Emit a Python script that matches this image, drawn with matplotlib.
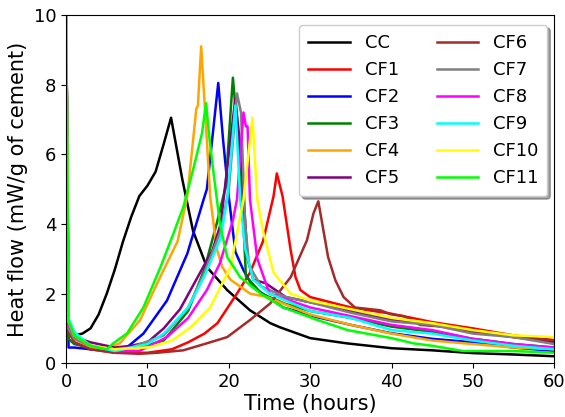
import matplotlib
matplotlib.use("Agg")
import matplotlib.pyplot as plt

# heat flow curves (hours, mW/g of cement)
cc_t = [0, 0.3, 1, 2, 3, 4, 5, 6, 7, 8, 9, 10, 11, 12, 12.9, 14.3, 15.6, 17.3, 19.8, 22.6, 25.1, 26.3, 30, 34.5, 40, 45, 50, 55, 60]
cc_q = [10.5, 1.2, 0.8, 0.85, 1.0, 1.4, 2.0, 2.7, 3.5, 4.2, 4.8, 5.1, 5.5, 6.3, 7.05, 5.26, 3.8, 2.76, 2.1, 1.52, 1.15, 1.03, 0.72, 0.57, 0.43, 0.37, 0.29, 0.25, 0.2]

cf1_t = [0, 0.3, 1, 3, 6, 10, 13, 15, 17, 18.6, 21, 22.6, 24.2, 25.5, 25.9, 26.6, 27.6, 28.2, 28.8, 30, 35, 40, 45, 50, 55, 60]
cf1_q = [10.5, 1.0, 0.6, 0.4, 0.3, 0.3, 0.4, 0.6, 0.85, 1.15, 2.0, 2.6, 3.5, 4.8, 5.45, 4.8, 3.25, 2.47, 2.1, 1.9, 1.6, 1.42, 1.18, 1.0, 0.8, 0.66]

cf2_t = [0, 0.3, 1, 3, 5, 7.5, 9.5, 12.4, 14.9, 16.9, 17.3, 18.7, 19.3, 19.9, 20.8, 21.8, 23, 26.7, 30.9, 35, 40, 45, 50, 55, 60]
cf2_q = [10.5, 0.45, 0.45, 0.4, 0.38, 0.46, 0.85, 1.8, 3.15, 4.7, 5.0, 8.05, 6.4, 4.97, 3.2, 2.67, 2.18, 1.6, 1.32, 1.1, 0.86, 0.7, 0.6, 0.45, 0.35]

cf3_t = [0, 0.3, 1, 3, 6, 9, 12, 15, 17, 18.5, 19.6, 20.5, 21.3, 21.8, 22.1, 24, 27, 30, 35, 40, 45, 50, 55, 60]
cf3_q = [10.5, 0.7, 0.55, 0.45, 0.4, 0.45, 0.65, 1.5, 2.7, 4.0, 5.06, 8.2, 6.0, 4.0, 2.5, 2.0, 1.7, 1.5, 1.3, 1.05, 0.9, 0.7, 0.55, 0.45]

cf4_t = [0, 0.3, 1, 3, 4.5, 6.6, 9.1, 11.2, 13.7, 14.9, 16.0, 16.2, 16.6, 17.3, 17.7, 18.5, 19.2, 20.2, 21.4, 22.6, 24.7, 30, 35, 40, 45, 50, 55, 60]
cf4_q = [10.5, 1.0, 0.7, 0.45, 0.4, 0.57, 1.24, 2.3, 3.5, 4.8, 7.3, 7.4, 9.1, 6.4, 4.8, 3.3, 2.76, 2.4, 2.2, 2.0, 1.9, 1.4, 1.1, 0.85, 0.65, 0.55, 0.45, 0.4]

cf5_t = [0, 0.3, 1, 3, 6, 8, 10, 12, 14, 16, 18, 19, 20, 20.8, 21.5, 22.3, 23, 24.5, 27, 30, 35, 40, 45, 50, 55, 60]
cf5_q = [10.5, 1.1, 0.75, 0.6, 0.45, 0.5, 0.6, 1.0, 1.55, 2.4, 3.25, 4.0, 6.0, 7.6, 6.0, 3.0, 2.4, 2.3, 1.9, 1.75, 1.5, 1.25, 1.1, 0.9, 0.75, 0.6]

cf6_t = [0, 0.3, 1, 3, 6, 9, 11.2, 14.4, 17, 19.8, 22.6, 25.1, 27.6, 29.6, 30.4, 31, 32.2, 33.1, 34.1, 35.5, 38.6, 40, 41.5, 43.5, 46.9, 51, 55, 60]
cf6_q = [10.5, 0.9, 0.6, 0.4, 0.3, 0.27, 0.3, 0.37, 0.55, 0.75, 1.24, 1.72, 2.47, 3.53, 4.3, 4.65, 3.05, 2.38, 1.9, 1.6, 1.52, 1.4, 1.35, 1.1, 1.04, 0.9, 0.75, 0.66]

cf7_t = [0, 0.3, 1, 3, 6, 8, 12, 15, 17, 19, 20, 21, 21.5, 22, 22.5, 24, 27, 30, 35, 40, 45, 50, 55, 60]
cf7_q = [10.5, 1.0, 0.7, 0.5, 0.4, 0.45, 0.8, 1.6, 2.6, 3.8, 5.0, 7.75, 7.2, 4.0, 2.8, 2.2, 1.9, 1.75, 1.45, 1.2, 1.1, 0.85, 0.75, 0.55]

cf8_t = [0, 0.3, 1, 3, 6, 9, 12.4, 15, 17.3, 18.9, 20.5, 21, 21.8, 22.1, 22.3, 22.6, 23.5, 25, 30, 35, 40, 45, 50, 55, 60]
cf8_q = [10.5, 1.1, 0.8, 0.5, 0.35, 0.35, 0.75, 1.3, 2.1, 2.87, 4.1, 4.7, 7.2, 6.8, 6.8, 4.7, 3.0, 2.0, 1.6, 1.35, 1.1, 0.95, 0.7, 0.55, 0.45]

cf9_t = [0, 0.3, 1, 3, 6, 10, 12, 15, 17, 19, 19.8, 20.8, 21.4, 22, 23, 25, 30, 35, 40, 45, 50, 55, 60]
cf9_q = [10.5, 1.3, 0.9, 0.5, 0.35, 0.55, 0.85, 1.6, 2.5, 3.6, 4.7, 7.4, 4.7, 3.3, 2.4, 2.0, 1.5, 1.3, 0.95, 0.85, 0.65, 0.5, 0.4]

cf10_t = [0, 0.3, 1, 3, 6, 10.3, 13, 15.3, 17.7, 20.2, 21.8, 22.9, 23.5, 24.2, 25.5, 27.6, 30, 35, 40, 45, 50, 55, 60]
cf10_q = [10.5, 1.2, 0.8, 0.5, 0.4, 0.46, 0.65, 1.03, 1.6, 2.76, 4.7, 7.05, 4.7, 3.8, 2.6, 2.0, 1.8, 1.55, 1.3, 1.15, 0.95, 0.8, 0.75]

cf11_t = [0, 0.3, 1, 3, 5, 5.8, 7.5, 9.5, 11.6, 13.2, 14.4, 15.6, 16.7, 17.2, 17.6, 18.1, 18.5, 18.9, 19.8, 21.4, 23.9, 26.7, 30.9, 34.6, 40, 42.7, 45, 48.8, 55, 60]
cf11_q = [10.5, 1.2, 0.8, 0.5, 0.4, 0.57, 0.86, 1.6, 2.76, 3.73, 4.48, 5.55, 6.6, 7.47, 6.5, 5.5, 4.77, 4.0, 3.05, 2.47, 2.0, 1.6, 1.24, 0.95, 0.72, 0.57, 0.5, 0.35, 0.35, 0.3]

labels = ["CC", "CF1", "CF2", "CF3", "CF4", "CF5", "CF6", "CF7", "CF8", "CF9", "CF10", "CF11"]
colors = ["black", "red", "blue", "green", "orange", "purple", "brown", "gray", "magenta", "cyan", "yellow", "lime"]

series = [(cc_t, cc_q), (cf1_t, cf1_q), (cf2_t, cf2_q), (cf3_t, cf3_q), (cf4_t, cf4_q), (cf5_t, cf5_q),
          (cf6_t, cf6_q), (cf7_t, cf7_q), (cf8_t, cf8_q), (cf9_t, cf9_q), (cf10_t, cf10_q), (cf11_t, cf11_q)]

fig = plt.figure(figsize=(5.65, 4.17), dpi=100)
ax = fig.add_axes([0.117, 0.129, 0.864, 0.835])

for (t, q), lab, c in zip(series, labels, colors):
    ax.plot(t, q, color=c, lw=1.8, label=lab)

ax.set_xlim(0, 60)
ax.set_ylim(0, 10)
ax.set_xticks([0, 10, 20, 30, 40, 50, 60])
ax.set_yticks([0, 2, 4, 6, 8, 10])
ax.tick_params(labelsize=13)
ax.set_xlabel("Time (hours)", fontsize=15, labelpad=2)
ax.set_ylabel("Heat flow (mW/g of cement)", fontsize=15)
ax.legend(loc="upper right", ncol=2, fontsize=13, shadow=True, fancybox=True,
          bbox_to_anchor=(0.986, 0.971), borderaxespad=0, borderpad=0.5,
          handlelength=2.28, handletextpad=0.83, columnspacing=2.1)

fig.savefig("out.png", dpi=100)
